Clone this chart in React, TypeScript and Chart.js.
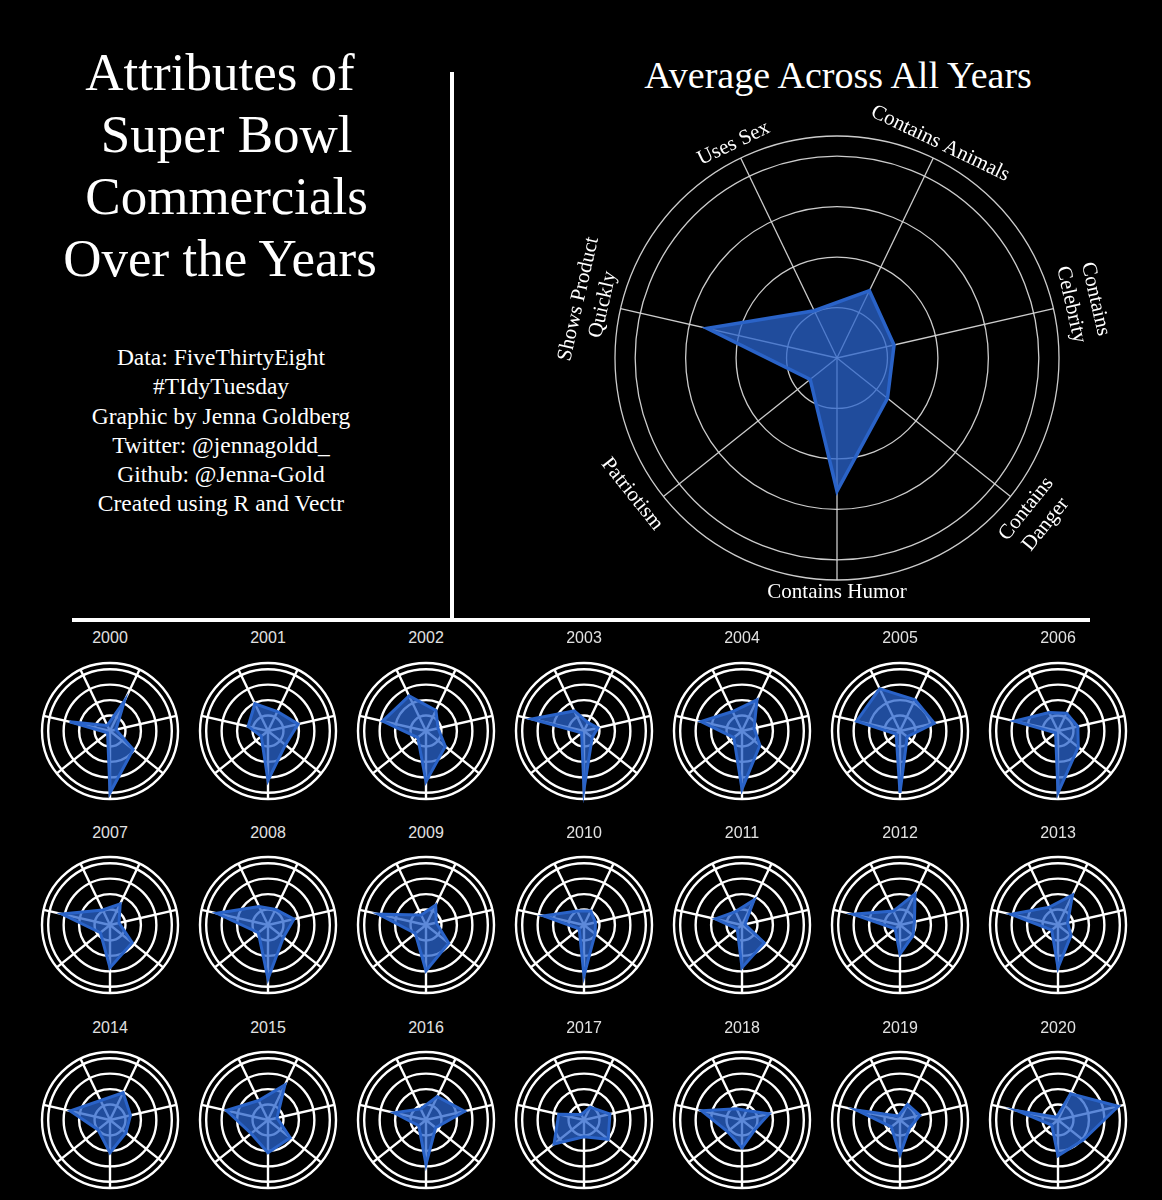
import React, { useEffect, useRef } from "react";
import { Chart, registerables } from "chart.js";

Chart.register(...registerables);

// ---------- data ----------
const attributes = [
  "Contains Animals",
  "Contains Celebrity",
  "Contains Danger",
  "Contains Humor",
  "Patriotism",
  "Shows Product Quickly",
  "Uses Sex",
];
const axisLabelLines = [
  ["Contains Animals"],
  ["Contains", "Celebrity"],
  ["Contains", "Danger"],
  ["Contains Humor"],
  ["Patriotism"],
  ["Shows Product", "Quickly"],
  ["Uses Sex"],
];
const averageAllYears = [0.37, 0.29, 0.32, 0.66, 0.17, 0.66, 0.26];

const years = [
  "2000", "2001", "2002", "2003", "2004", "2005", "2006",
  "2007", "2008", "2009", "2010", "2011", "2012", "2013",
  "2014", "2015", "2016", "2017", "2018", "2019", "2020",
];
const v2000 = [0.54, 0.1, 0.48, 1.0, 0.05, 0.67, 0.1];
const v2001 = [0.35, 0.5, 0.36, 0.8, 0.14, 0.33, 0.49];
const v2002 = [0.37, 0.2, 0.4, 0.82, 0.17, 0.72, 0.63];
const v2003 = [0.15, 0.23, 0.17, 0.94, 0.05, 0.87, 0.36];
const v2004 = [0.56, 0.2, 0.37, 0.94, 0.17, 0.68, 0.35];
const v2005 = [0.56, 0.57, 0.15, 1.0, 0.08, 0.72, 0.76];
const v2006 = [0.32, 0.33, 0.42, 1.0, 0.05, 0.72, 0.33];
const v2007 = [0.38, 0.15, 0.46, 0.69, 0.2, 0.8, 0.27];
const v2008 = [0.28, 0.43, 0.32, 0.87, 0.2, 0.85, 0.33];
const v2009 = [0.36, 0.17, 0.47, 0.74, 0.22, 0.79, 0.18];
const v2010 = [0.25, 0.19, 0.23, 0.82, 0.1, 0.67, 0.25];
const v2011 = [0.45, 0.05, 0.46, 0.69, 0.1, 0.44, 0.24];
const v2012 = [0.56, 0.24, 0.27, 0.47, 0.1, 0.78, 0.25];
const v2013 = [0.54, 0.16, 0.27, 0.69, 0.13, 0.78, 0.32];
const v2014 = [0.49, 0.34, 0.33, 0.53, 0.25, 0.66, 0.35];
const v2015 = [0.63, 0.15, 0.46, 0.53, 0.35, 0.69, 0.35];
const v2016 = [0.42, 0.64, 0.2, 0.72, 0.15, 0.53, 0.2];
const v2017 = [0.23, 0.43, 0.5, 0.27, 0.62, 0.42, 0.1];
const v2018 = [0.17, 0.45, 0.26, 0.45, 0.3, 0.67, 0.2];
const v2019 = [0.28, 0.33, 0.2, 0.56, 0.18, 0.72, 0.07];
const v2020 = [0.47, 1.0, 0.52, 0.58, 0.13, 0.67, 0.05];
const yearValues = [
  v2000, v2001, v2002, v2003, v2004, v2005, v2006,
  v2007, v2008, v2009, v2010, v2011, v2012, v2013,
  v2014, v2015, v2016, v2017, v2018, v2019, v2020,
];

const gridTicks = [0, 0.25, 0.5, 0.75, 1.0, 1.1];
const titleLines = ["Attributes of", " Super Bowl", " Commercials", "Over the Years"];
const creditLines = [
  "Data: FiveThirtyEight",
  "#TIdyTuesday",
  "Graphic by Jenna Goldberg",
  "Twitter: @jennagoldd_",
  "Github: @Jenna-Gold",
  "Created using R and Vectr",
];

const SERIF = '"Liberation Serif", "Times New Roman", Times, serif';
const SANS = '"Liberation Sans", Arial, Helvetica, sans-serif';

// extra distance (px) and angle shift (deg) for each axis label
const labelDistNudge = [2, 0, 2, -2, 10, 0, 2];
const labelAngleNudge = [0, 0, 0, 0, 5, 0, 0];

const axisLabelPlugin = {
  id: "axisLabelPlugin",
  afterDraw(chart: any) {
    const s = chart.scales.r;
    const ctx = chart.ctx;
    ctx.save();
    ctx.fillStyle = "#ffffff";
    ctx.font = `21px ${SERIF}`;
    ctx.textAlign = "center";
    ctx.textBaseline = "middle";
    const lineH = 25;
    axisLabelLines.forEach((lines, i) => {
      const a0 = s.getIndexAngle(i);
      const deg = ((a0 * 180) / Math.PI) % 360;
      const a = a0 + (labelAngleNudge[i] * Math.PI) / 180;
      const n = lines.length;
      const dist = s.drawingArea + 14 + labelDistNudge[i] + ((n - 1) * lineH) / 2 + (n - 1) * 4;
      const x = s.xCenter + Math.sin(a) * dist;
      const y = s.yCenter - Math.cos(a) * dist;
      const bottom = deg > 90.5 && deg < 269.5;
      const rot = Math.abs(deg - 180) < 0.5 ? 0 : bottom ? a0 - Math.PI : a0;
      ctx.save();
      ctx.translate(x, y);
      ctx.rotate(rot);
      lines.forEach((t, j) => {
        ctx.fillText(t, 0, (j - (n - 1) / 2) * lineH);
      });
      ctx.restore();
    });
    ctx.restore();
  },
};

type RadarProps = {
  values: number[];
  cx: number;
  cy: number;
  radius: number;
  pad: number;
  big?: boolean;
};

function RadarChart({ values, cx, cy, radius, pad, big }: RadarProps) {
  const ref = useRef<HTMLCanvasElement>(null);
  const size = 2 * radius + 2 * pad;
  useEffect(() => {
    const canvas = ref.current;
    if (!canvas) return;
    const gridColor = big ? "rgba(215,215,215,0.95)" : "#ffffff";
    const gridWidth = big ? 1.3 : 2.4;
    const chart = new Chart(canvas, {
      type: "radar",
      data: {
        labels: attributes,
        datasets: [
          {
            data: values,
            fill: true,
            backgroundColor: "rgba(42,100,205,0.76)",
            borderColor: "rgb(42,99,200)",
            borderWidth: big ? 3.5 : 3,
            pointRadius: 0,
            pointHoverRadius: 0,
            tension: 0,
            borderJoinStyle: "miter",
          } as any,
        ],
      },
      options: {
        responsive: false,
        animation: false,
        events: [],
        layout: { padding: pad },
        plugins: { legend: { display: false }, tooltip: { enabled: false } },
        scales: {
          r: {
            min: 0,
            max: 1.1,
            startAngle: 180 / 7,
            ticks: { display: false },
            afterBuildTicks: (scale: any) => {
              scale.ticks = gridTicks.map((v) => ({ value: v }));
            },
            grid: { circular: true, color: gridColor, lineWidth: gridWidth },
            angleLines: { color: gridColor, lineWidth: gridWidth },
            pointLabels: { display: false },
          } as any,
        },
      },
      plugins: big ? [axisLabelPlugin] : [],
    });
    return () => chart.destroy();
  }, [values, radius, pad, big]);
  return (
    <canvas
      ref={ref}
      width={size}
      height={size}
      style={{
        position: "absolute",
        left: cx - size / 2,
        top: cy - size / 2,
        width: size,
        height: size,
      }}
    />
  );
}

export default function App() {
  useEffect(() => {
    document.body.style.margin = "0";
    document.body.style.background = "#000";
  }, []);

  const colX = (i: number) => 110 + 158 * i;
  const rowY = [731, 925, 1120];
  const labelY = [638, 833, 1028];

  return (
    <div
      style={{
        position: "absolute",
        left: 0,
        top: 0,
        width: 1162,
        height: 1200,
        background: "#000",
        overflow: "hidden",
        color: "#fff",
      }}
    >
      {/* left title */}
      <div
        style={{
          position: "absolute",
          left: 10,
          width: 420,
          top: 41,
          textAlign: "center",
          fontFamily: SERIF,
          fontSize: 53,
          lineHeight: "62px",
          color: "#fff",
          whiteSpace: "pre",
        }}
      >
        {titleLines.map((t) => (
          <div key={t}>{t}</div>
        ))}
      </div>
      {/* credits */}
      <div
        style={{
          position: "absolute",
          left: 11,
          width: 420,
          top: 343,
          textAlign: "center",
          fontFamily: SERIF,
          fontSize: 23.5,
          lineHeight: "29.3px",
          color: "#fff",
        }}
      >
        {creditLines.map((t) => (
          <div key={t}>{t}</div>
        ))}
      </div>
      {/* dividers */}
      <div style={{ position: "absolute", left: 450, top: 72, width: 4, height: 550, background: "#fff" }} />
      <div style={{ position: "absolute", left: 72, top: 618, width: 1018, height: 4, background: "#fff" }} />
      {/* main title */}
      <div
        style={{
          position: "absolute",
          left: 538,
          width: 600,
          top: 54,
          textAlign: "center",
          fontFamily: SERIF,
          fontSize: 38,
          lineHeight: "42px",
          color: "#fff",
        }}
      >
        Average Across All Years
      </div>
      <RadarChart values={averageAllYears} cx={837} cy={358} radius={222} pad={90} big />
      {years.map((y, i) => {
        const col = i % 7;
        const row = Math.floor(i / 7);
        return (
          <React.Fragment key={y}>
            <div
              style={{
                position: "absolute",
                left: colX(col) - 60,
                width: 120,
                top: labelY[row] - 10,
                height: 20,
                lineHeight: "20px",
                textAlign: "center",
                fontFamily: SANS,
                fontSize: 16,
                color: "#e2e2e2",
              }}
            >
              {y}
            </div>
            <RadarChart values={yearValues[i]} cx={colX(col)} cy={rowY[row]} radius={68} pad={4} />
          </React.Fragment>
        );
      })}
    </div>
  );
}
